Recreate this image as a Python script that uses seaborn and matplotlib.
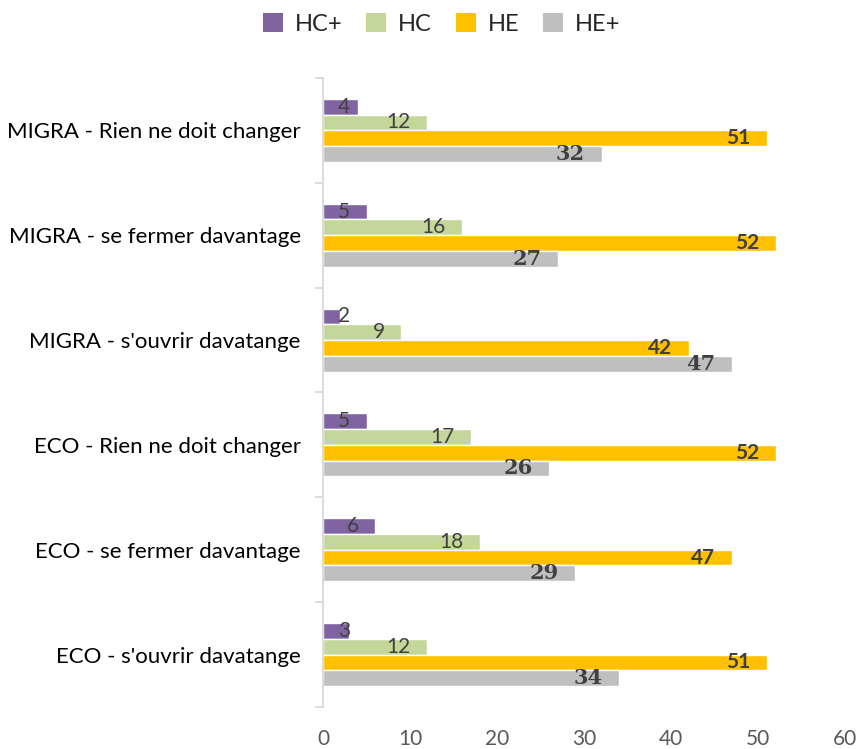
import pandas as pd
import numpy as np
import matplotlib
matplotlib.use('Agg')
import matplotlib.pyplot as plt
import seaborn as sns
from matplotlib.patches import Patch

# data
categories = ['MIGRA - Rien ne doit changer', 'MIGRA - se fermer davantage',
              "MIGRA - s'ouvrir davatange", 'ECO - Rien ne doit changer',
              'ECO - se fermer davantage', "ECO - s'ouvrir davatange"]
series = ['HC+', 'HC', 'HE', 'HE+']
hc_plus = [4, 5, 2, 5, 6, 3]
hc = [12, 16, 9, 17, 18, 12]
he = [51, 52, 42, 52, 47, 51]
he_plus = [32, 27, 47, 26, 29, 34]
colors = ['#8064A2', '#C4D79B', '#FFC000', '#BFBFBF']

values = {'HC+': hc_plus, 'HC': hc, 'HE': he, 'HE+': he_plus}
rows = []
for s in series:
    for c, v in zip(categories, values[s]):
        rows.append({'cat': c, 'serie': s, 'val': v})
df = pd.DataFrame(rows)

sns.set_style('white')
plt.rcParams['font.family'] = ['Lato', 'DejaVu Sans']

fig = plt.figure(figsize=(8.66, 7.49), dpi=100)
ax = fig.add_axes([0.373, 0.056, 0.603, 0.84])

sns.barplot(data=df, y='cat', x='val', hue='serie', hue_order=series,
            order=categories, palette=colors, orient='h', width=0.6,
            saturation=1, errorbar=None, legend=False, ax=ax)

ax.set_xlim(0, 60)
ax.set_xticks(range(0, 61, 10))
ax.set_xlabel('')
ax.set_ylabel('')

# value labels at the inside end of each bar
label_fonts = {
    'HC+': dict(fontweight='normal', family=['Lato']),
    'HC': dict(fontweight='normal', family=['Lato']),
    'HE': dict(fontweight='bold', family=['Lato']),
    'HE+': dict(fontweight='bold', family=['DejaVu Serif']),
}
for s, cont in zip(series, ax.containers):
    for bar, v in zip(cont, values[s]):
        yc = bar.get_y() + bar.get_height() / 2
        xl = max(v - 1.9, 3.1)
        ax.text(xl, yc, str(v), ha='right', va='center', fontsize=15,
                color='#404040', **label_fonts[s])

# axes styling
for sp in ['top', 'right', 'bottom']:
    ax.spines[sp].set_visible(False)
ax.spines['left'].set_color('#D9D9D9')
ax.spines['left'].set_linewidth(1.3)
ax.set_yticks(np.arange(-0.5, len(categories), 1), minor=True)
ax.tick_params(axis='y', which='minor', length=6, color='#D9D9D9', width=1.3, left=True)
ax.tick_params(axis='y', which='major', length=0, pad=16, labelsize=16, labelcolor='#000000')
ax.tick_params(axis='x', length=0, pad=16, labelsize=15, labelcolor='#595959')
ax.set_ylim(len(categories) - 0.5, -0.5)

handles = [Patch(facecolor=c, edgecolor='none') for c in colors]
fig.legend(handles, series, loc='center', bbox_to_anchor=(0.51, 0.968), ncol=4,
           frameon=False, fontsize=17, handlelength=0.85, handleheight=0.85,
           handletextpad=0.5, columnspacing=1.0)

fig.savefig('out.png', dpi=100)
